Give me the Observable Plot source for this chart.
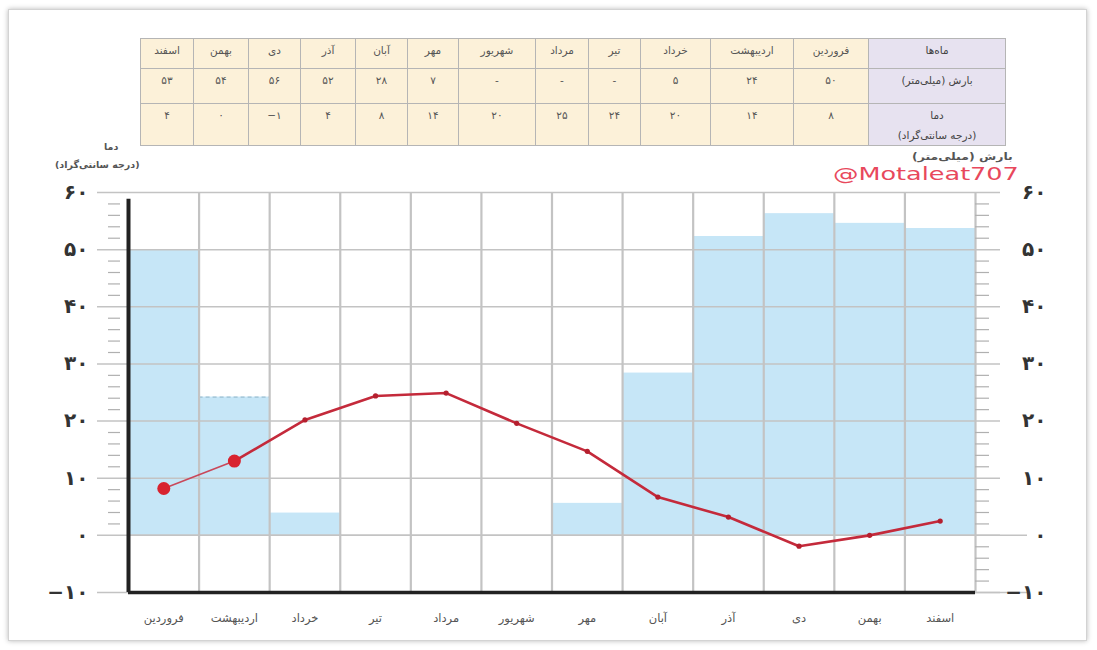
<!DOCTYPE html>
<html><head><meta charset="utf-8">
<script src="https://cdn.jsdelivr.net/npm/d3@7"></script>
<script src="https://cdn.jsdelivr.net/npm/@observablehq/plot@0.6"></script>
<style>
body{margin:0;background:#fff;font-family:"DejaVu Sans",sans-serif;}
#wrap{position:relative;width:1097px;height:650px;overflow:hidden;background:#fff;}
#card{position:absolute;left:8px;top:9px;width:1077px;height:630px;border:1px solid #d3d3d3;box-shadow:0 0 5px rgba(0,0,0,.28);}
#chart{position:absolute;left:0;top:0;}
#tbl{position:absolute;left:140px;top:38px;width:866px;height:106px;border-collapse:collapse;direction:rtl;table-layout:fixed;}
#tbl td{border:1px solid #b5b5b5;background:#fcf1d9;text-align:center;font-size:10.5px;color:#555;padding:4px 0 0 0;vertical-align:top;line-height:14px;}
#tbl td.lab{background:#e7e2f0;color:#444;}
#tbl td.lab2{line-height:20px;padding-top:1px;}
.ttl{position:absolute;font-size:9.5px;line-height:11px;color:#555;font-weight:bold;direction:rtl;white-space:nowrap;}
#rt{font-size:10px;transform:scaleX(1.25);transform-origin:left top;}
#wm{position:absolute;left:833px;top:165px;font-family:"DejaVu Sans",sans-serif;font-size:17px;line-height:18px;color:#e8485c;transform:scaleX(1.5);transform-origin:left top;white-space:nowrap;}
</style></head>
<body>
<div id="wrap">
  <div id="card"></div>
  <div id="chart"></div>
  <table id="tbl"></table>
  <div class="ttl" style="left:104px;top:141px;">دما</div>
  <div class="ttl" style="left:55px;top:159px;">(درجه سانتی‌گراد)</div>
  <div class="ttl" id="rt" style="left:912px;top:151px;">بارش (میلی‌متر)</div>
  <div id="wm">@Motaleat707</div>
</div>
<script>
// ---- data ----
const months = ["فروردین","اردیبهشت","خرداد","تیر","مرداد","شهریور","مهر","آبان","آذر","دی","بهمن","اسفند"];
// precipitation (mm) as drawn by the bars
const precip = [50, 24.2, 3.9, 0, 0, 0, 5.6, 28.4, 52.3, 56.3, 54.6, 53.7];
// temperature (°C) as drawn by the line
const temp = [8.2, 13, 20.2, 24.4, 24.9, 19.6, 14.7, 6.7, 3.2, -1.9, 0, 2.5];
// values printed in the table
const precipTable = [50, 24, 5, null, null, null, 7, 28, 52, 56, 54, 53];
const tempTable = [8, 14, 20, 24, 25, 20, 14, 8, 4, -1, 0, 4];
const tableLabels = ["ماه‌ها", "بارش (میلی‌متر)", "دما<br>(درجه سانتی‌گراد)"];
// axis ticks
const majorTicks = [60, 50, 40, 30, 20, 10, 0, -10];
const minorLeft = d3.range(2, 60, 2).filter(d => d % 10 !== 0);
const minorRight = d3.range(-8, 60, 2).filter(d => d % 10 !== 0);

const fa = v => String(v).replace(/\d/g, d => "۰۱۲۳۴۵۶۷۸۹"[d]).replace("-", "−");

// ---- table ----
const colWidths = [137, 75, 83, 70, 52, 53, 77, 51, 52, 55, 52, 55, 53];
const tbl = document.getElementById("tbl");
let html = "<colgroup>" + colWidths.map(w => `<col style="width:${w}px">`).join("") + "</colgroup>";
html += `<tr style="height:30px"><td class="lab">${tableLabels[0]}</td>` + months.map(m => `<td>${m}</td>`).join("") + "</tr>";
html += `<tr style="height:35px"><td class="lab">${tableLabels[1]}</td>` + precipTable.map(v => `<td><span dir="ltr">${v == null ? "-" : fa(v)}</span></td>`).join("") + "</tr>";
html += `<tr style="height:41px"><td class="lab lab2">${tableLabels[2]}</td>` + tempTable.map(v => `<td><span dir="ltr">${fa(v)}</span></td>`).join("") + "</tr>";
tbl.innerHTML = html;

// ---- chart ----
const idx = d3.range(months.length);
const grid = "#c3c3c3";
const chart = Plot.plot({
  width: 1097, height: 650,
  marginLeft: 128, marginRight: 122, marginTop: 192, marginBottom: 58,
  x: {domain: [0, 12], axis: null},
  y: {domain: [-10, 60], axis: null},
  style: {fontFamily: "DejaVu Sans, sans-serif", background: "transparent", overflow: "visible"},
  marks: [
    Plot.rect(idx, {x1: i => i, x2: i => i + 1, y1: () => 0, y2: i => precip[i], fill: "#c6e6f7"}),
    Plot.ruleY([1], {x1: i => i, x2: i => i + 1, y: i => precip[i], stroke: "#8fb3c6", strokeWidth: 1, strokeDasharray: "4,3"}),
    Plot.ruleY(majorTicks, {stroke: grid, strokeWidth: 1.5, insetLeft: -31, insetRight: -25}),
    Plot.ruleY([0, -10], {stroke: grid, strokeWidth: 1.5, insetRight: -52}),
    Plot.ruleX(d3.range(1, 13), {y1: () => -10, y2: () => 60, stroke: grid, strokeWidth: 2.2}),
    Plot.ruleY(minorLeft, {stroke: "#b0b0b0", strokeWidth: 1.2, insetLeft: -20, insetRight: 855}),
    Plot.ruleY(minorRight, {stroke: "#b0b0b0", strokeWidth: 1.2, insetLeft: 847, insetRight: -14}),
    Plot.ruleX([0], {y1: () => -10, y2: () => 58.8, stroke: "#222", strokeWidth: 4}),
    Plot.ruleY([-10], {stroke: "#222", strokeWidth: 3.5}),
    Plot.line([0, 1], {x: i => i + 0.5, y: i => temp[i], stroke: "#c9485a", strokeWidth: 1.6}),
    Plot.line(idx.slice(1), {x: i => i + 0.5, y: i => temp[i], stroke: "#c42a3b", strokeWidth: 2.6}),
    Plot.dot(idx.slice(2), {x: i => i + 0.5, y: i => temp[i], r: 2.6, fill: "#b51f2e"}),
    Plot.dot([0, 1], {x: i => i + 0.5, y: i => temp[i], r: 6.5, fill: "#d8232f"}),
    Plot.text(majorTicks, {y: d => d, text: d => fa(d), frameAnchor: "left", dx: -40, textAnchor: "end", fontSize: 20, fontWeight: "bold", fill: "#333"}),
    Plot.text(majorTicks, {y: d => d, text: d => fa(d), frameAnchor: "right", dx: 71, textAnchor: "end", fontSize: 20, fontWeight: "bold", fill: "#333"}),
    Plot.text(idx, {x: i => i + 0.5, y: () => -10, dy: 26, text: i => months[i], fontSize: 11.5, fill: "#555"})
  ]
});
document.getElementById("chart").appendChild(chart);
</script>
</body></html>
